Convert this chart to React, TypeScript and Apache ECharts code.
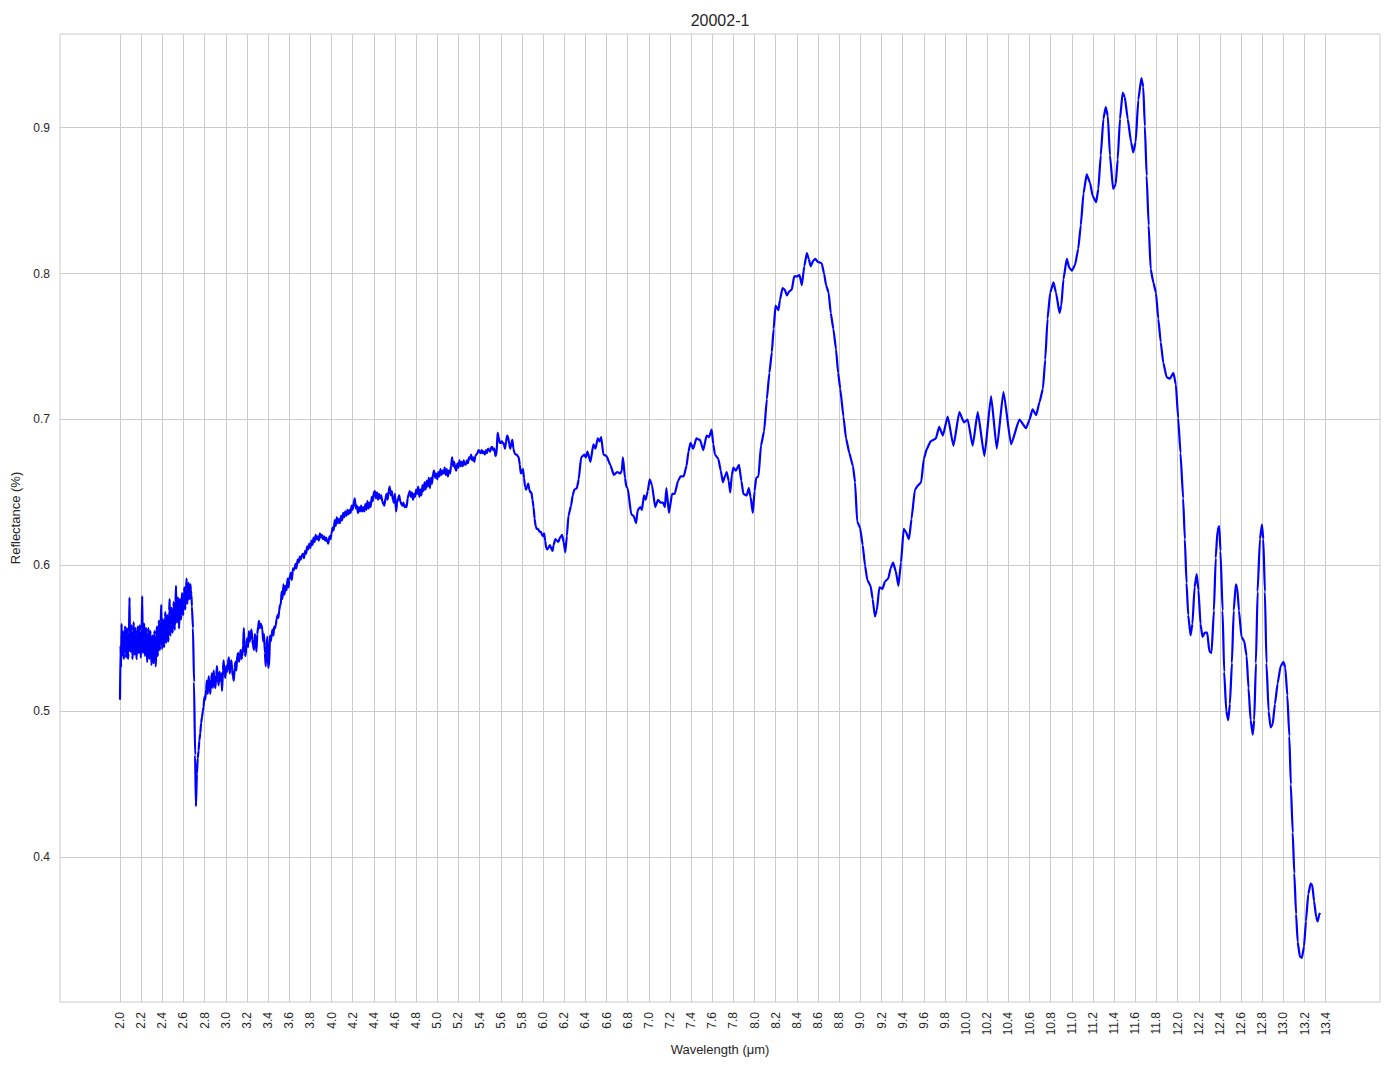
import React, { useEffect, useRef } from "react";
import * as echarts from "echarts";

const chartTitle = "20002-1";
const xName = "Wavelength (μm)";
const yName = "Reflectance (%)";

const xTicks = [2.0, 2.2, 2.4, 2.6, 2.8, 3.0, 3.2, 3.4, 3.6, 3.8, 4.0, 4.2, 4.4, 4.6, 4.8, 5.0, 5.2, 5.4, 5.6, 5.8, 6.0, 6.2, 6.4, 6.6, 6.8, 7.0, 7.2, 7.4, 7.6, 7.8, 8.0, 8.2, 8.4, 8.6, 8.8, 9.0, 9.2, 9.4, 9.6, 9.8, 10.0, 10.2, 10.4, 10.6, 10.8, 11.0, 11.2, 11.4, 11.6, 11.8, 12.0, 12.2, 12.4, 12.6, 12.8, 13.0, 13.2, 13.4];
const yTicks = [0.4, 0.5, 0.6, 0.7, 0.8, 0.9];

const noisyStart = [
  [2.000, 0.508], [2.005, 0.545], [2.010, 0.530], [2.015, 0.560], [2.020, 0.538], [2.025, 0.552], [2.030, 0.555], [2.035, 0.536], [2.040, 0.540], [2.045, 0.556], [2.050, 0.558], [2.055, 0.539], [2.060, 0.537], [2.065, 0.557], [2.070, 0.552], [2.075, 0.536], [2.080, 0.540], [2.085, 0.554], [2.090, 0.578], [2.095, 0.545], [2.100, 0.541], [2.105, 0.559], [2.110, 0.556], [2.115, 0.538], [2.120, 0.536], [2.125, 0.555], [2.130, 0.561], [2.135, 0.539], [2.140, 0.540], [2.145, 0.557], [2.150, 0.553], [2.155, 0.536], [2.160, 0.537], [2.165, 0.556], [2.170, 0.558], [2.175, 0.540], [2.180, 0.542], [2.185, 0.559], [2.190, 0.555], [2.195, 0.537], [2.200, 0.538], [2.205, 0.556], [2.210, 0.579], [2.215, 0.546], [2.220, 0.540], [2.225, 0.558], [2.230, 0.560], [2.235, 0.538], [2.240, 0.541], [2.245, 0.557], [2.250, 0.555], [2.255, 0.534], [2.260, 0.535], [2.265, 0.554], [2.270, 0.557], [2.275, 0.536], [2.280, 0.538], [2.285, 0.555], [2.290, 0.553], [2.295, 0.533], [2.300, 0.532], [2.305, 0.552], [2.310, 0.550], [2.315, 0.533], [2.320, 0.534], [2.325, 0.555], [2.330, 0.552], [2.335, 0.532], [2.340, 0.531], [2.345, 0.553], [2.350, 0.558], [2.355, 0.538], [2.360, 0.540], [2.365, 0.560], [2.370, 0.562], [2.375, 0.542], [2.380, 0.545], [2.385, 0.561], [2.390, 0.573], [2.395, 0.544], [2.400, 0.543], [2.405, 0.563], [2.410, 0.560], [2.415, 0.544], [2.420, 0.546], [2.425, 0.565], [2.430, 0.568], [2.435, 0.547], [2.440, 0.549], [2.445, 0.566], [2.450, 0.563], [2.455, 0.548], [2.460, 0.551], [2.465, 0.569], [2.470, 0.577], [2.475, 0.552], [2.480, 0.553], [2.485, 0.571], [2.490, 0.570], [2.495, 0.554], [2.500, 0.556], [2.505, 0.572], [2.510, 0.575], [2.515, 0.556], [2.520, 0.558], [2.525, 0.575], [2.530, 0.586], [2.535, 0.561], [2.540, 0.562], [2.545, 0.576], [2.550, 0.578], [2.555, 0.559], [2.560, 0.557], [2.565, 0.577], [2.570, 0.574], [2.575, 0.563], [2.580, 0.566], [2.585, 0.581], [2.590, 0.580], [2.595, 0.566], [2.600, 0.568], [2.605, 0.582], [2.610, 0.585], [2.615, 0.570], [2.620, 0.572], [2.625, 0.584], [2.630, 0.591], [2.635, 0.574], [2.640, 0.575], [2.645, 0.586], [2.650, 0.588], [2.655, 0.577], [2.660, 0.578], [2.665, 0.587], [2.670, 0.583], [2.675, 0.580], [2.680, 0.572], [2.690, 0.557], [2.700, 0.520], [2.710, 0.470], [2.718, 0.435],
];

const dipRecovery = [
  [2.727, 0.457], [2.735, 0.468], [2.743, 0.473], [2.750, 0.480], [2.759, 0.485], [2.767, 0.492], [2.775, 0.496], [2.783, 0.500], [2.790, 0.503], [2.798, 0.510], [2.806, 0.508], [2.814, 0.515], [2.822, 0.521], [2.830, 0.512], [2.838, 0.524], [2.846, 0.518], [2.854, 0.512], [2.862, 0.522], [2.870, 0.526], [2.878, 0.516], [2.886, 0.528], [2.894, 0.519], [2.902, 0.516], [2.910, 0.525], [2.917, 0.531], [2.925, 0.522], [2.933, 0.518], [2.941, 0.527], [2.950, 0.521], [2.957, 0.526], [2.965, 0.514], [2.973, 0.528], [2.980, 0.535], [2.988, 0.525], [2.996, 0.523], [3.004, 0.531], [3.012, 0.527], [3.020, 0.533], [3.030, 0.537], [3.037, 0.526], [3.045, 0.531], [3.053, 0.535], [3.060, 0.528], [3.068, 0.524], [3.076, 0.521], [3.084, 0.530], [3.092, 0.534], [3.100, 0.528], [3.108, 0.538], [3.117, 0.540], [3.125, 0.534], [3.133, 0.537], [3.140, 0.542], [3.148, 0.536], [3.156, 0.538], [3.164, 0.545], [3.171, 0.557], [3.179, 0.540], [3.187, 0.538], [3.195, 0.546], [3.203, 0.550], [3.211, 0.544], [3.219, 0.555], [3.227, 0.548], [3.235, 0.552], [3.243, 0.556], [3.251, 0.549], [3.259, 0.545], [3.267, 0.542], [3.275, 0.553], [3.283, 0.548], [3.290, 0.541], [3.298, 0.553], [3.306, 0.558], [3.314, 0.562], [3.322, 0.557], [3.330, 0.560], [3.338, 0.559], [3.346, 0.556], [3.354, 0.548], [3.362, 0.553], [3.370, 0.540], [3.378, 0.531], [3.386, 0.545], [3.394, 0.551], [3.400, 0.530], [3.410, 0.531], [3.418, 0.552], [3.426, 0.548], [3.434, 0.553], [3.442, 0.556], [3.450, 0.552], [3.458, 0.558], [3.466, 0.557], [3.473, 0.559], [3.480, 0.563], [3.490, 0.566], [3.497, 0.564], [3.505, 0.569], [3.513, 0.573], [3.520, 0.573], [3.528, 0.582], [3.536, 0.577], [3.546, 0.587], [3.555, 0.580], [3.565, 0.586], [3.575, 0.583], [3.584, 0.591], [3.594, 0.585], [3.600, 0.590], [3.607, 0.593], [3.616, 0.595], [3.625, 0.590], [3.635, 0.598], [3.648, 0.597], [3.660, 0.601], [3.668, 0.598], [3.680, 0.604], [3.690, 0.602], [3.700, 0.606], [3.710, 0.604],
];

const plateau = [
  [3.72, 0.607], [3.73, 0.608], [3.74, 0.605], [3.75, 0.610], [3.76, 0.608], [3.77, 0.613], [3.78, 0.611], [3.79, 0.615], [3.80, 0.612], [3.81, 0.617], [3.82, 0.614], [3.83, 0.619], [3.84, 0.616], [3.85, 0.621], [3.86, 0.618], [3.87, 0.620], [3.88, 0.617], [3.89, 0.622], [3.90, 0.619], [3.91, 0.621], [3.92, 0.618], [3.93, 0.620], [3.94, 0.617], [3.95, 0.619], [3.96, 0.616], [3.97, 0.615], [3.98, 0.620], [3.99, 0.618],
  [4.00, 0.622], [4.01, 0.626], [4.02, 0.624], [4.03, 0.631], [4.04, 0.627], [4.05, 0.633], [4.06, 0.629], [4.07, 0.632], [4.08, 0.629], [4.09, 0.634], [4.10, 0.631], [4.11, 0.636], [4.12, 0.633], [4.13, 0.637], [4.14, 0.634], [4.15, 0.638], [4.16, 0.635], [4.17, 0.638], [4.18, 0.636], [4.19, 0.641], [4.20, 0.638], [4.21, 0.643], [4.22, 0.646], [4.23, 0.639], [4.24, 0.641], [4.25, 0.636], [4.26, 0.640], [4.27, 0.637], [4.28, 0.641], [4.29, 0.637], [4.30, 0.640], [4.31, 0.637], [4.32, 0.642], [4.33, 0.638], [4.34, 0.644], [4.35, 0.639], [4.36, 0.643], [4.37, 0.640], [4.38, 0.647], [4.39, 0.644], [4.40, 0.650], [4.41, 0.651], [4.42, 0.646], [4.43, 0.650], [4.44, 0.645], [4.45, 0.649], [4.46, 0.646], [4.47, 0.648], [4.48, 0.644], [4.49, 0.642], [4.50, 0.641], [4.51, 0.646], [4.52, 0.649], [4.53, 0.645], [4.54, 0.651], [4.55, 0.654], [4.56, 0.648], [4.57, 0.651], [4.58, 0.645], [4.59, 0.643], [4.60, 0.649], [4.61, 0.637], [4.62, 0.643], [4.63, 0.646], [4.64, 0.648], [4.65, 0.644], [4.66, 0.642], [4.67, 0.641], [4.68, 0.643], [4.69, 0.640], [4.70, 0.641], [4.71, 0.640], [4.72, 0.646], [4.73, 0.649], [4.74, 0.651], [4.75, 0.647], [4.76, 0.650], [4.77, 0.645], [4.78, 0.649], [4.79, 0.647], [4.80, 0.652], [4.81, 0.649], [4.82, 0.654], [4.83, 0.647], [4.84, 0.652], [4.85, 0.648], [4.86, 0.655], [4.87, 0.651], [4.88, 0.657], [4.89, 0.652], [4.90, 0.658], [4.91, 0.654], [4.92, 0.660], [4.93, 0.653], [4.94, 0.660], [4.95, 0.656], [4.96, 0.663], [4.97, 0.665], [4.98, 0.660], [4.99, 0.663],
  [5.00, 0.659], [5.01, 0.664], [5.02, 0.661], [5.03, 0.666], [5.04, 0.662], [5.05, 0.665], [5.06, 0.663], [5.07, 0.667], [5.08, 0.662], [5.09, 0.666], [5.10, 0.661], [5.11, 0.665], [5.12, 0.663], [5.13, 0.668], [5.14, 0.674], [5.15, 0.668], [5.16, 0.671], [5.17, 0.666], [5.18, 0.665], [5.19, 0.670], [5.20, 0.667], [5.21, 0.672], [5.22, 0.668], [5.23, 0.671], [5.24, 0.668], [5.25, 0.672], [5.26, 0.669], [5.27, 0.669], [5.28, 0.672], [5.29, 0.670], [5.30, 0.674], [5.31, 0.673], [5.32, 0.676], [5.33, 0.672], [5.34, 0.674], [5.35, 0.671], [5.36, 0.675], [5.37, 0.676], [5.38, 0.677], [5.39, 0.679], [5.40, 0.678], [5.41, 0.677], [5.42, 0.679], [5.43, 0.677], [5.44, 0.678], [5.45, 0.676], [5.46, 0.679], [5.47, 0.677], [5.48, 0.680], [5.49, 0.679], [5.50, 0.678], [5.51, 0.681], [5.52, 0.681], [5.53, 0.679], [5.54, 0.680], [5.55, 0.675], [5.56, 0.676], [5.57, 0.691], [5.58, 0.688], [5.59, 0.684], [5.60, 0.684], [5.61, 0.685], [5.62, 0.684], [5.63, 0.683], [5.64, 0.680], [5.65, 0.685], [5.66, 0.689], [5.67, 0.688], [5.68, 0.683], [5.69, 0.680], [5.70, 0.684], [5.71, 0.686], [5.72, 0.680], [5.73, 0.677], [5.74, 0.676], [5.75, 0.676], [5.76, 0.675], [5.77, 0.674], [5.78, 0.669], [5.79, 0.663], [5.80, 0.664], [5.81, 0.666], [5.82, 0.660], [5.83, 0.654], [5.84, 0.652], [5.85, 0.654], [5.86, 0.656], [5.87, 0.652], [5.88, 0.650], [5.89, 0.650], [5.90, 0.645], [5.91, 0.640], [5.92, 0.632], [5.93, 0.627], [5.94, 0.625], [5.95, 0.625], [5.96, 0.624], [5.97, 0.623], [5.98, 0.623], [5.99, 0.621], [6.00, 0.620], [6.01, 0.622], [6.02, 0.617], [6.03, 0.612], [6.04, 0.611], [6.05, 0.612],
];

const midBand = [
  [6.065, 0.614], [6.080, 0.611], [6.090, 0.610], [6.100, 0.614], [6.116, 0.618], [6.130, 0.617], [6.144, 0.616], [6.160, 0.619], [6.180, 0.621], [6.195, 0.616], [6.210, 0.609], [6.225, 0.620], [6.240, 0.634], [6.265, 0.641], [6.280, 0.648], [6.296, 0.652], [6.320, 0.653], [6.337, 0.659], [6.360, 0.674], [6.390, 0.676], [6.405, 0.674], [6.420, 0.678], [6.448, 0.671], [6.476, 0.683], [6.495, 0.680], [6.518, 0.687], [6.535, 0.685], [6.550, 0.688], [6.570, 0.676], [6.600, 0.675], [6.635, 0.669], [6.670, 0.662], [6.700, 0.664], [6.730, 0.663], [6.745, 0.665], [6.755, 0.674], [6.775, 0.660], [6.787, 0.654], [6.800, 0.653], [6.834, 0.635], [6.856, 0.634], [6.880, 0.629], [6.895, 0.638], [6.920, 0.640], [6.935, 0.638], [6.954, 0.648], [6.970, 0.645], [6.990, 0.651], [7.008, 0.659], [7.030, 0.655], [7.060, 0.640], [7.087, 0.645], [7.110, 0.643], [7.135, 0.643], [7.152, 0.640], [7.166, 0.653], [7.190, 0.636], [7.220, 0.649], [7.245, 0.649], [7.277, 0.658], [7.300, 0.661], [7.330, 0.661], [7.356, 0.668], [7.375, 0.678], [7.394, 0.684], [7.420, 0.680], [7.450, 0.687], [7.484, 0.686], [7.515, 0.679], [7.546, 0.689], [7.570, 0.688], [7.594, 0.693], [7.610, 0.683], [7.625, 0.676], [7.657, 0.673], [7.680, 0.665], [7.700, 0.657], [7.720, 0.661], [7.736, 0.664], [7.755, 0.658], [7.770, 0.650], [7.785, 0.662], [7.800, 0.667], [7.822, 0.665], [7.853, 0.669], [7.875, 0.658], [7.894, 0.649], [7.926, 0.648], [7.945, 0.653], [7.962, 0.647], [7.983, 0.636], [8.000, 0.651], [8.015, 0.660], [8.037, 0.661],
];

const thermalBand = [
  [8.060, 0.682], [8.090, 0.692], [8.116, 0.714], [8.140, 0.732], [8.163, 0.746], [8.180, 0.762], [8.198, 0.778], [8.226, 0.775], [8.240, 0.782], [8.264, 0.790], [8.285, 0.789], [8.305, 0.785], [8.330, 0.788], [8.352, 0.789], [8.374, 0.798], [8.400, 0.798], [8.425, 0.799], [8.447, 0.792], [8.470, 0.805], [8.494, 0.814], [8.512, 0.810], [8.530, 0.805], [8.557, 0.809], [8.575, 0.810], [8.597, 0.808], [8.635, 0.807], [8.657, 0.800], [8.676, 0.792], [8.700, 0.787], [8.720, 0.773], [8.745, 0.762], [8.770, 0.748], [8.790, 0.732], [8.810, 0.721], [8.840, 0.702], [8.865, 0.687], [8.896, 0.677], [8.930, 0.668], [8.950, 0.657], [8.970, 0.630], [8.997, 0.626], [9.022, 0.614], [9.044, 0.600], [9.066, 0.590], [9.097, 0.586], [9.116, 0.577], [9.138, 0.565], [9.155, 0.569], [9.180, 0.585], [9.210, 0.584], [9.233, 0.589], [9.264, 0.591], [9.286, 0.598], [9.310, 0.602], [9.335, 0.596], [9.360, 0.586], [9.384, 0.602], [9.410, 0.625], [9.430, 0.623], [9.460, 0.618], [9.484, 0.632], [9.516, 0.652], [9.547, 0.655], [9.575, 0.657], [9.600, 0.673], [9.630, 0.680], [9.664, 0.685], [9.690, 0.686], [9.714, 0.687], [9.745, 0.695], [9.780, 0.689], [9.826, 0.702], [9.880, 0.682], [9.936, 0.705], [9.980, 0.698], [10.015, 0.700], [10.062, 0.682], [10.110, 0.705], [10.173, 0.675], [10.236, 0.716], [10.290, 0.680], [10.353, 0.719], [10.425, 0.683], [10.504, 0.700], [10.567, 0.694], [10.600, 0.700], [10.628, 0.707], [10.663, 0.703], [10.694, 0.712], [10.726, 0.721], [10.748, 0.741], [10.770, 0.769], [10.795, 0.787], [10.826, 0.794], [10.850, 0.787], [10.883, 0.773], [10.900, 0.778], [10.920, 0.796], [10.952, 0.810], [10.975, 0.804], [11.000, 0.802], [11.030, 0.806], [11.060, 0.817], [11.084, 0.833], [11.110, 0.855], [11.140, 0.868], [11.172, 0.862], [11.197, 0.853], [11.230, 0.849], [11.250, 0.858], [11.273, 0.881], [11.298, 0.906], [11.320, 0.914], [11.340, 0.908], [11.360, 0.881], [11.390, 0.858], [11.414, 0.861], [11.433, 0.878], [11.455, 0.906], [11.480, 0.924], [11.500, 0.921], [11.528, 0.906], [11.560, 0.890], [11.580, 0.883], [11.603, 0.890], [11.628, 0.919], [11.657, 0.934], [11.675, 0.928], [11.690, 0.901], [11.707, 0.867], [11.726, 0.833], [11.745, 0.803], [11.770, 0.794], [11.795, 0.787], [11.817, 0.769], [11.840, 0.753], [11.864, 0.739], [11.896, 0.729], [11.927, 0.728], [11.960, 0.732], [11.983, 0.724],
];

const tail = [
  [12.005, 0.701], [12.027, 0.677], [12.052, 0.646], [12.068, 0.618], [12.084, 0.588], [12.100, 0.566], [12.122, 0.552], [12.140, 0.560], [12.160, 0.585], [12.180, 0.594], [12.197, 0.583], [12.216, 0.560], [12.235, 0.551], [12.257, 0.554], [12.280, 0.554], [12.300, 0.541], [12.320, 0.540], [12.343, 0.569], [12.360, 0.605], [12.377, 0.624], [12.393, 0.627], [12.405, 0.610], [12.425, 0.569], [12.440, 0.527], [12.460, 0.500], [12.478, 0.494], [12.494, 0.505], [12.513, 0.533], [12.530, 0.569], [12.550, 0.587], [12.563, 0.585], [12.580, 0.569], [12.604, 0.551], [12.630, 0.548], [12.652, 0.538], [12.670, 0.516], [12.690, 0.494], [12.710, 0.484], [12.724, 0.494], [12.740, 0.533], [12.756, 0.582], [12.778, 0.618], [12.797, 0.628], [12.810, 0.618], [12.825, 0.582], [12.840, 0.533], [12.860, 0.500], [12.879, 0.489], [12.898, 0.491], [12.920, 0.505], [12.945, 0.519], [12.974, 0.531], [13.000, 0.534], [13.018, 0.530], [13.037, 0.511], [13.056, 0.483], [13.070, 0.450], [13.088, 0.417], [13.103, 0.389], [13.120, 0.361], [13.135, 0.342], [13.156, 0.332], [13.175, 0.331], [13.195, 0.339], [13.213, 0.356], [13.235, 0.375], [13.258, 0.382], [13.273, 0.381], [13.290, 0.370], [13.310, 0.359], [13.324, 0.356], [13.340, 0.361], [13.346, 0.362],
];

const FONT = "'Liberation Sans', Arial, sans-serif";
const TEXT = "#262626";
const GRID = "#cccccc";

export default function App() {
  const ref = useRef<HTMLDivElement>(null);

  useEffect(() => {
    if (!ref.current) return;
    const chart = echarts.init(ref.current, undefined, { renderer: "svg" });
    const data = [...noisyStart, ...dipRecovery, ...plateau, ...midBand, ...thermalBand, ...tail];
    const xs = data.map((d) => d[0]);
    const ys = data.map((d) => d[1]);
    const xMinD = Math.min(...xs), xMaxD = Math.max(...xs);
    const yMinD = Math.min(...ys), yMaxD = Math.max(...ys);
    const xPad = (xMaxD - xMinD) * 0.05;
    const yPad = (yMaxD - yMinD) * 0.05;

    chart.setOption({
      animation: false,
      backgroundColor: "#ffffff",
      textStyle: { fontFamily: FONT },
      graphic: [
        {
          type: "text",
          x: 720,
          y: 20,
          style: {
            text: chartTitle,
            fill: TEXT,
            fontSize: 16,
            fontFamily: FONT,
            align: "center",
            verticalAlign: "middle",
            textAlign: "center",
            textVerticalAlign: "middle",
          },
        },
      ],
      grid: {
        left: 60,
        top: 34,
        width: 1320,
        height: 968,
        show: true,
        borderColor: GRID,
        borderWidth: 1,
        backgroundColor: "#ffffff",
        containLabel: false,
      },
      xAxis: {
        type: "value",
        min: xMinD - xPad,
        max: xMaxD + xPad,
        name: xName,
        nameLocation: "middle",
        nameGap: 37,
        nameTextStyle: { fontSize: 13, color: TEXT, fontFamily: FONT },
        axisLine: { show: false },
        axisTick: { show: false, customValues: xTicks },
        axisLabel: {
          customValues: xTicks,
          rotate: 90,
          margin: 10,
          fontSize: 12,
          color: TEXT,
          fontFamily: FONT,
          formatter: (v: number) => v.toFixed(1),
        },
        splitLine: { show: true, lineStyle: { color: GRID, width: 1 } },
      },
      yAxis: {
        type: "value",
        min: yMinD - yPad,
        max: yMaxD + yPad,
        name: yName,
        nameLocation: "middle",
        nameGap: 34,
        nameTextStyle: { fontSize: 13, color: TEXT, fontFamily: FONT },
        axisLine: { show: false },
        axisTick: { show: false, customValues: yTicks },
        axisLabel: {
          customValues: yTicks,
          margin: 10,
          fontSize: 12,
          color: TEXT,
          fontFamily: FONT,
          formatter: (v: number) => v.toFixed(1),
        },
        splitLine: { show: true, lineStyle: { color: GRID, width: 1 } },
      },
      series: [
        {
          type: "line",
          data,
          showSymbol: false,
          symbol: "none",
          smooth: 0.15,
          smoothMonotone: "x",
          lineStyle: { color: "#0000ff", width: 2.2 },
          itemStyle: { color: "#0000ff" },
        },
      ],
    });
    return () => chart.dispose();
  }, []);

  return (
    <div
      ref={ref}
      style={{ position: "fixed", left: 0, top: 0, width: 1394, height: 1069, background: "#fff" }}
    />
  );
}
